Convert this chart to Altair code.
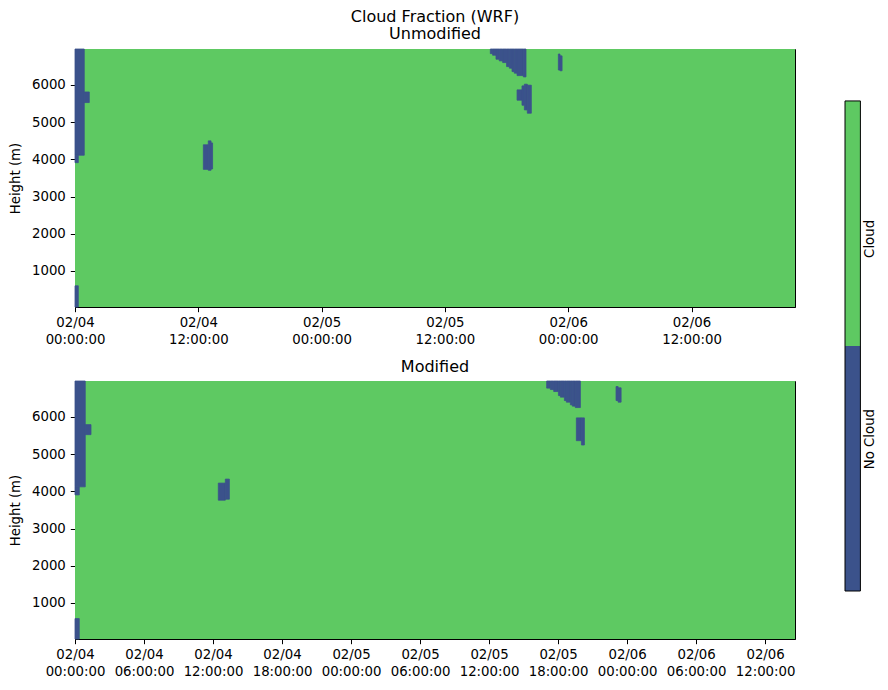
import altair as alt
import pandas as pd

BLUE = "#3b528b"
GREEN = "#5ec962"

# model column: time in hours after 02/04 00:00:00, height in metres
z_range = [30, 6965]
t_range_unmod = [0, 70.07]
t_range_mod = [0, 62.6]
y_ticks = [1000, 2000, 3000, 4000, 5000, 6000]
x_ticks_unmod = [0, 12, 24, 36, 48, 60]
x_ticks_mod = [0, 6, 12, 18, 24, 30, 36, 42, 48, 54, 60]

# "No Cloud" blocks, Unmodified run
unmod_t0 = [0, 0, 0.9, 0, 12.49, 12.97, 13.24,
            40.42, 40.64, 40.97, 41.29, 41.62, 42.0, 42.27, 42.53, 42.75, 43.02, 43.63,
            43.02, 43.5, 43.73, 44.02, 47.04, 47.2]
unmod_t1 = [0.9, 0.32, 1.39, 0.32, 12.97, 13.24, 13.39,
            40.64, 40.97, 41.29, 41.62, 42.0, 42.27, 42.53, 42.75, 43.02, 43.63, 43.89,
            43.5, 43.73, 44.02, 44.41, 47.2, 47.4]
unmod_z0 = [4110, 3910, 5525, 30, 3730, 3705, 3740,
            6841, 6798, 6691, 6645, 6600, 6492, 6449, 6358, 6315, 6250, 6215,
            5589, 5454, 5328, 5239, 6400, 6380]
unmod_z1 = [6965, 4110, 5810, 600, 4390, 4495, 4440,
            6965, 6965, 6965, 6965, 6965, 6965, 6965, 6965, 6965, 6965, 6965,
            5866, 5973, 6019, 5992, 6830, 6780]

# "No Cloud" blocks, Modified run
mod_t0 = [0, 0, 0.89, 0, 12.46, 13.07,
          41.01, 41.33, 41.62, 42.03, 42.2, 42.55, 42.72, 43.07, 43.24, 43.5,
          43.59, 44.03, 47.04, 47.22]
mod_t1 = [0.89, 0.37, 1.39, 0.37, 13.07, 13.42,
          41.33, 41.62, 42.03, 42.2, 42.55, 42.72, 43.07, 43.24, 43.5, 43.94,
          44.03, 44.29, 47.22, 47.48]
mod_z0 = [4120, 3904, 5523, 30, 3761, 3788,
          6774, 6736, 6682, 6574, 6531, 6440, 6396, 6324, 6289, 6251,
          5361, 5245, 6440, 6396]
mod_z1 = [6965, 4120, 5792, 579, 4220, 4328,
          6965, 6965, 6965, 6965, 6965, 6965, 6965, 6965, 6965, 6965,
          5973, 5973, 6817, 6782]

classes = ["No Cloud", "Cloud"]
class_lo = [0, 1]
class_hi = [1, 2]
class_label_pos = [0.62, 1.437]

color_scale = alt.Scale(domain=classes, range=[BLUE, GREEN])

label_expr = ("['02/0' + (4 + floor(datum.value / 24)), "
              "(datum.value % 24 < 10 ? '0' : '') + (datum.value % 24) + ':00:00']")


def panel(t0, t1, z0, z1, t_range, ticks, title, offset):
    blocks = pd.DataFrame({"t0": t0, "t1": t1, "z0": z0, "z1": z1, "state": "No Cloud"})
    full = pd.DataFrame({"t0": [t_range[0]], "t1": [t_range[1]],
                         "z0": [z_range[0]], "z1": [z_range[1]], "state": ["Cloud"]})
    x = alt.X("t0:Q", title=None,
              scale=alt.Scale(domain=t_range, nice=False, zero=False),
              axis=alt.Axis(values=ticks, labelExpr=label_expr, labelFlush=False,
                            labelOverlap=False, labelLineHeight=16.5, labelPadding=4))
    y = alt.Y("z0:Q", title="Height (m)",
              scale=alt.Scale(domain=z_range, nice=False, zero=False),
              axis=alt.Axis(values=y_ticks, format="d", labelPadding=5, titlePadding=8.5))
    color = alt.Color("state:N", scale=color_scale, legend=None)
    enc = dict(x=x, x2="t1:Q", y=y, y2="z1:Q", color=color)
    back = alt.Chart(full).mark_rect().encode(**enc)
    # a thin stroke of the same colour closes the seams between neighbouring blocks
    front = alt.Chart(blocks).mark_rect(strokeWidth=0.8).encode(
        stroke=alt.Color("state:N", scale=color_scale, legend=None), **enc
    )
    return alt.layer(back, front).properties(
        width=720, height=258,
        title=alt.Title(title, fontSize=16, fontWeight="normal", lineHeight=17, offset=offset),
    )


top = panel(unmod_t0, unmod_t1, unmod_z0, unmod_z1, t_range_unmod, x_ticks_unmod,
            ["Cloud Fraction (WRF)", "Unmodified"], 7)
bottom = panel(mod_t0, mod_t1, mod_z0, mod_z1, t_range_mod, x_ticks_mod, "Modified", 6)

cb = pd.DataFrame({"state": classes, "lo": class_lo, "hi": class_hi, "pos": class_label_pos})
cb_y = alt.Scale(domain=[-0.204, 2.212], nice=False, zero=False)
cb_x = alt.Scale(domain=[0, 1], nice=False, zero=False)
bar = alt.Chart(cb).mark_rect().encode(
    x=alt.X("x0:Q", scale=cb_x, axis=None), x2="x1:Q",
    y=alt.Y("lo:Q", scale=cb_y, axis=None), y2="hi:Q",
    color=alt.Color("state:N", scale=color_scale, legend=None),
).transform_calculate(x0="0", x1="1")
outline = alt.Chart(pd.DataFrame({"lo": [class_lo[0]], "hi": [class_hi[-1]]})).mark_rect(
    fill=None, stroke="black", strokeWidth=1
).encode(
    x=alt.X("x0:Q", scale=cb_x, axis=None), x2="x1:Q",
    y=alt.Y("lo:Q", scale=cb_y, axis=None), y2="hi:Q",
).transform_calculate(x0="0", x1="1")
labels = alt.Chart(cb).mark_text(angle=270, fontSize=13.3, color="black", dy=9.5).encode(
    x=alt.X("x1:Q", scale=cb_x, axis=None),
    y=alt.Y("pos:Q", scale=cb_y, axis=None),
    text="state:N",
).transform_calculate(x1="1")
colorbar = alt.layer(bar, outline, labels).properties(
    width=15.4, height=592, view=alt.ViewBackground(stroke=None)
)

chart = alt.hconcat(
    alt.vconcat(top, bottom, spacing=12), colorbar, spacing=48
).properties(
    padding={"left": 0, "top": 0, "right": 0, "bottom": 0}
).configure(
    font="DejaVu Sans"
).configure_view(
    stroke="black", strokeWidth=1
).configure_axis(
    domainColor="black", tickColor="black", labelColor="black", titleColor="black",
    labelFontSize=13.3, titleFontSize=13.3, titleFontWeight="normal", tickSize=4.7,
    grid=False, labelFont="DejaVu Sans", titleFont="DejaVu Sans",
).configure_title(
    font="DejaVu Sans", color="black", anchor="middle"
)

chart.save("out.html", embed_options={"renderer": "svg", "actions": False})
